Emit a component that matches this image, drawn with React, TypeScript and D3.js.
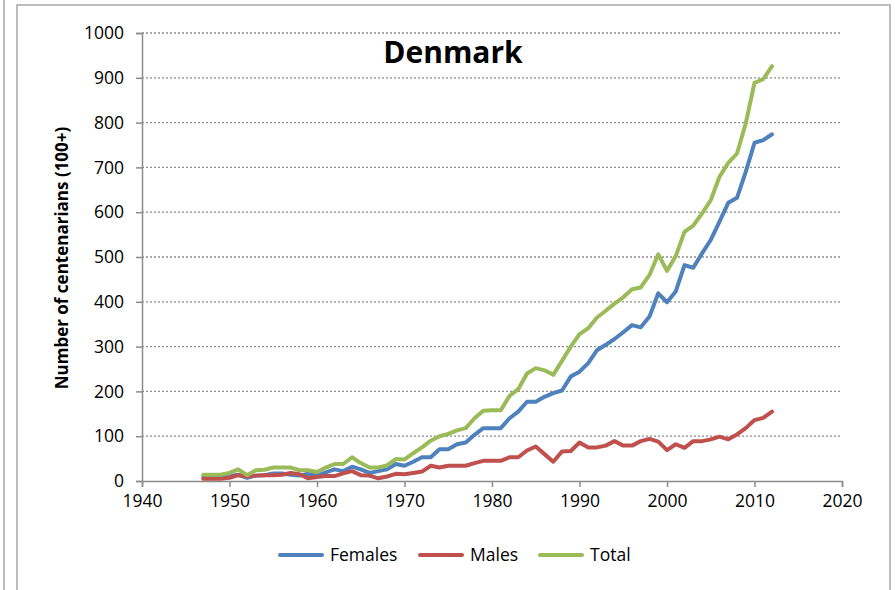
import React, { useEffect, useRef } from "react";
import * as d3 from "d3";

const years = d3.range(1947, 2013);

const females = [
  9, 9, 9, 11, 14, 7, 12, 13, 17, 17, 14, 12, 16, 12, 19, 26, 22, 32, 26, 18,
  22, 26, 38, 34, 43, 53, 53, 71, 71, 82, 86, 103, 118, 118, 118, 140, 155, 177,
  177, 188, 196, 202, 233, 244, 263, 292, 304, 317, 332, 348, 343, 367, 419,
  399, 423, 482, 476, 508, 538, 579, 621, 632, 690, 755, 761, 774,
];

const males = [
  5, 5, 5, 7, 13, 10, 12, 13, 13, 14, 18, 15, 6, 9, 11, 11, 17, 22, 13, 12, 6,
  10, 16, 15, 18, 21, 34, 30, 34, 34, 34, 40, 45, 45, 45, 53, 53, 68, 77, 60,
  43, 66, 67, 86, 75, 75, 79, 89, 79, 79, 89, 94, 88, 69, 82, 74, 89, 89, 93,
  99, 93, 104, 118, 136, 141, 155,
];

const total = [
  14, 14, 14, 18, 26, 13, 24, 25, 30, 30, 30, 24, 24, 20, 30, 38, 38, 53, 40,
  30, 30, 35, 49, 48, 62, 75, 90, 100, 105, 113, 118, 140, 157, 158, 158, 190,
  205, 240, 252, 247, 237, 268, 300, 328, 341, 365, 380, 396, 410, 428, 432,
  460, 506, 469, 502, 556, 570, 597, 627, 679, 710, 731, 798, 889, 897, 926,
];

const seriesNames = ["Females", "Males", "Total"];
const seriesColors = ["#4F81BD", "#C0504D", "#9BBB59"];
const xTicks = [1940, 1950, 1960, 1970, 1980, 1990, 2000, 2010, 2020];
const yTicks = [0, 100, 200, 300, 400, 500, 600, 700, 800, 900, 1000];

const App = () => {
  const svgRef = useRef<SVGSVGElement>(null);

  useEffect(() => {
    const width = 895;
    const height = 590;
    const margin = { top: 33, right: 53, bottom: 109, left: 142 };
    const font = "'Open Sans', sans-serif";

    const svg = d3.select(svgRef.current);
    svg.selectAll("*").remove();
    svg.attr("width", width).attr("height", height).style("background", "#fff");

    // outer frames
    svg
      .append("line")
      .attr("x1", 4)
      .attr("x2", 4)
      .attr("y1", 0)
      .attr("y2", height)
      .attr("stroke", "#a6a6a6")
      .attr("stroke-width", 1.5);
    svg
      .append("rect")
      .attr("x", 17)
      .attr("y", 5)
      .attr("width", 873)
      .attr("height", height + 10)
      .attr("fill", "none")
      .attr("stroke", "#a6a6a6")
      .attr("stroke-width", 1.5);

    const x = d3
      .scaleLinear()
      .domain([1940, 2020])
      .range([margin.left, width - margin.right]);
    const y = d3
      .scaleLinear()
      .domain([0, 1000])
      .range([height - margin.bottom, margin.top]);

    // gridlines
    svg
      .append("g")
      .selectAll("line")
      .data(yTicks.slice(1))
      .join("line")
      .attr("x1", x(1940))
      .attr("x2", x(2020))
      .attr("y1", (d) => y(d))
      .attr("y2", (d) => y(d))
      .attr("stroke", "#8c8c8c")
      .attr("stroke-width", 1.3)
      .attr("stroke-dasharray", "2,2");

    // axes
    const xAxis = svg
      .append("g")
      .attr("transform", `translate(0, ${y(0)})`)
      .call(
        d3
          .axisBottom(x)
          .tickValues(xTicks)
          .tickFormat(d3.format("d"))
          .tickSize(6)
          .tickPadding(8)
      );
    const yAxis = svg
      .append("g")
      .attr("transform", `translate(${x(1940)}, 0)`)
      .call(
        d3
          .axisLeft(y)
          .tickValues(yTicks)
          .tickFormat(d3.format("d"))
          .tickSize(6)
          .tickPadding(12)
      );

    [xAxis, yAxis].forEach((a) => {
      a.select(".domain").attr("stroke", "#8c8c8c").attr("stroke-width", 1.5);
      a.selectAll(".tick line").attr("stroke", "#8c8c8c").attr("stroke-width", 1.5);
      a.selectAll("text")
        .style("font-family", font)
        .style("font-size", "17.5px")
        .attr("fill", "#000");
    });

    // lines
    const data = [females, males, total];
    const line = d3
      .line<number>()
      .x((_, i) => x(years[i]))
      .y((d) => y(d));

    svg
      .append("g")
      .selectAll("path")
      .data(data)
      .join("path")
      .attr("d", (d) => line(d))
      .attr("fill", "none")
      .attr("stroke", (_, i) => seriesColors[i])
      .attr("stroke-width", 4)
      .attr("stroke-linejoin", "round")
      .attr("stroke-linecap", "round");

    // title
    svg
      .append("text")
      .attr("x", 453)
      .attr("y", 63)
      .attr("text-anchor", "middle")
      .style("font-family", font)
      .style("font-size", "30px")
      .style("font-weight", "700")
      .text("Denmark");

    // y label
    svg
      .append("text")
      .attr("transform", `translate(68, ${(y(0) + y(1000)) / 2 + 1}) rotate(-90)`)
      .attr("text-anchor", "middle")
      .style("font-family", font)
      .style("font-size", "17px")
      .style("font-weight", "700")
      .text("Number of centenarians (100+)");

    // legend
    const legendX = [280, 420, 540];
    const legend = svg
      .append("g")
      .selectAll("g")
      .data(seriesNames)
      .join("g")
      .attr("transform", (_, i) => `translate(${legendX[i]}, 555)`);
    legend
      .append("line")
      .attr("x1", 0)
      .attr("x2", 42)
      .attr("stroke", (_, i) => seriesColors[i])
      .attr("stroke-width", 4)
      .attr("stroke-linecap", "round");
    legend
      .append("text")
      .attr("x", 50)
      .attr("dy", "0.35em")
      .style("font-family", font)
      .style("font-size", "17.5px")
      .text((d) => d);
  }, []);

  return (
    <svg
      ref={svgRef}
      style={{ position: "absolute", left: 0, top: 0, display: "block" }}
    ></svg>
  );
};

export default App;
